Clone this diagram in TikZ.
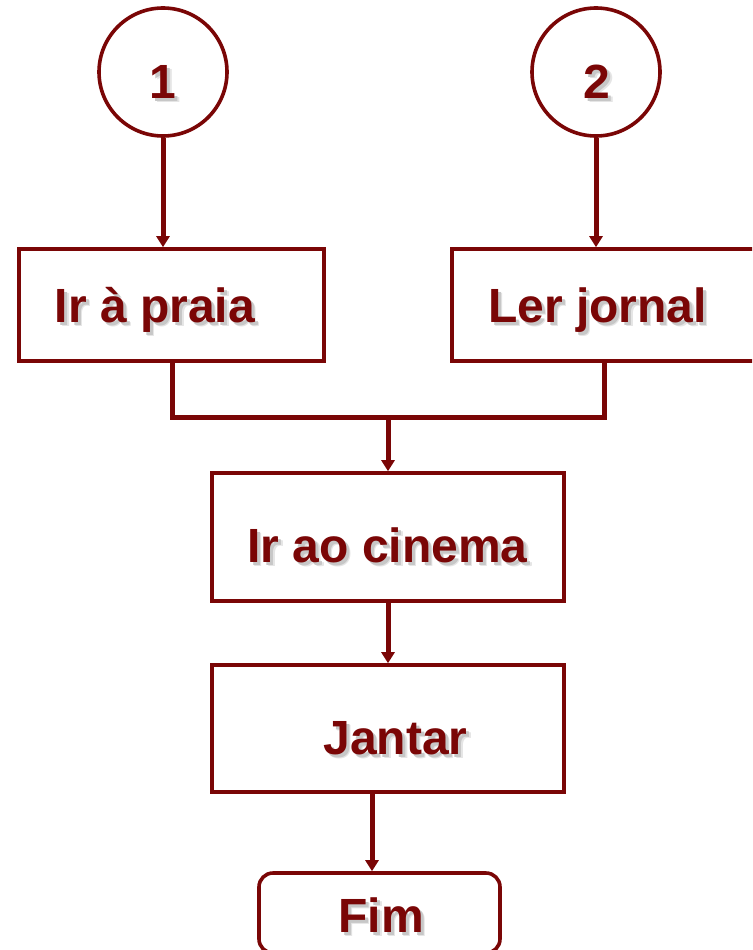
\documentclass[tikz,border=0pt]{standalone}
\usepackage{fontspec}
\setmainfont{Liberation Sans}
\usetikzlibrary{arrows.meta}
\definecolor{wine}{RGB}{122,6,6}
\tikzset{
  ring/.style={circle, draw=wine, line width=3.6pt, inner sep=0pt, minimum size=128pt},
  stepbox/.style={rectangle, draw=wine, line width=3.6pt, inner sep=0pt, fill=white},
  endbox/.style={stepbox, rounded corners=14pt},
  link/.style={draw=wine, line width=5pt, line join=miter},
  arr/.style={link, -{Triangle[width=13pt,length=11pt]}},
  lbl/.style={anchor=base, inner sep=0pt, text=wine, font=\fontsize{48}{56}\selectfont\bfseries},
}
% bold text with a soft grey drop shadow behind it
\newcommand\shadowed[1]{%
  \rlap{\kern4.5pt\raisebox{-4.5pt}{\color{black!10}#1}}%
  \rlap{\kern3pt\raisebox{-3pt}{\color{black!22}#1}}%
  #1}
\begin{document}
\begin{tikzpicture}[x=1pt, y=-1pt]
\useasboundingbox (0,0) rectangle (752,950);
\clip (0,0) rectangle (752,950);

% shapes
\node[ring] (c1) at (163,72) {};
\node[ring] (c2) at (596,72) {};
\node[stepbox, minimum width=305pt, minimum height=112pt] (praia) at (171.5,305) {};
\node[stepbox, minimum width=310pt, minimum height=112pt] (jornal) at (607,305) {};
\node[stepbox, minimum width=352pt, minimum height=128pt] (cinema) at (388,537) {};
\node[stepbox, minimum width=352pt, minimum height=127pt] (jantar) at (388,728.5) {};
\node[endbox, minimum width=241pt, minimum height=80pt] (fim) at (379.5,913) {};

% connector joints
\coordinate (j1) at (172,417);
\coordinate (j2) at (604,417);
\coordinate (m) at (388,417);
\coordinate (f) at (372,850);

\draw[arr] (c1.south) -- (c1.south |- praia.north);
\draw[arr] (c2.south) -- (c2.south |- jornal.north);
\draw[link] (praia.south -| j1) -- (j1) -- (j2) -- (jornal.south -| j2);
\draw[arr] (m) -- (m |- cinema.north);
\draw[arr] (cinema.south -| m) -- (jantar.north -| m);
\draw[arr] (jantar.south -| f) -- (fim.north -| f);

% labels (anchored at their baselines)
\node[lbl] (n1) at (163,98) {\shadowed{1}};
\node[lbl] (n2) at (597,98) {\shadowed{2}};
\node[lbl] (tpraia) at (155,322) {\shadowed{Ir à praia}};
\node[lbl] (tjornal) at (597.5,322) {\shadowed{Ler jornal}};
\node[lbl] (tcinema) at (387.5,562) {\shadowed{Ir ao cinema}};
\node[lbl] (tjantar) at (395.5,754) {\shadowed{Jantar}};
\node[lbl] (tfim) at (381,932) {\shadowed{Fim}};
\end{tikzpicture}
\end{document}
